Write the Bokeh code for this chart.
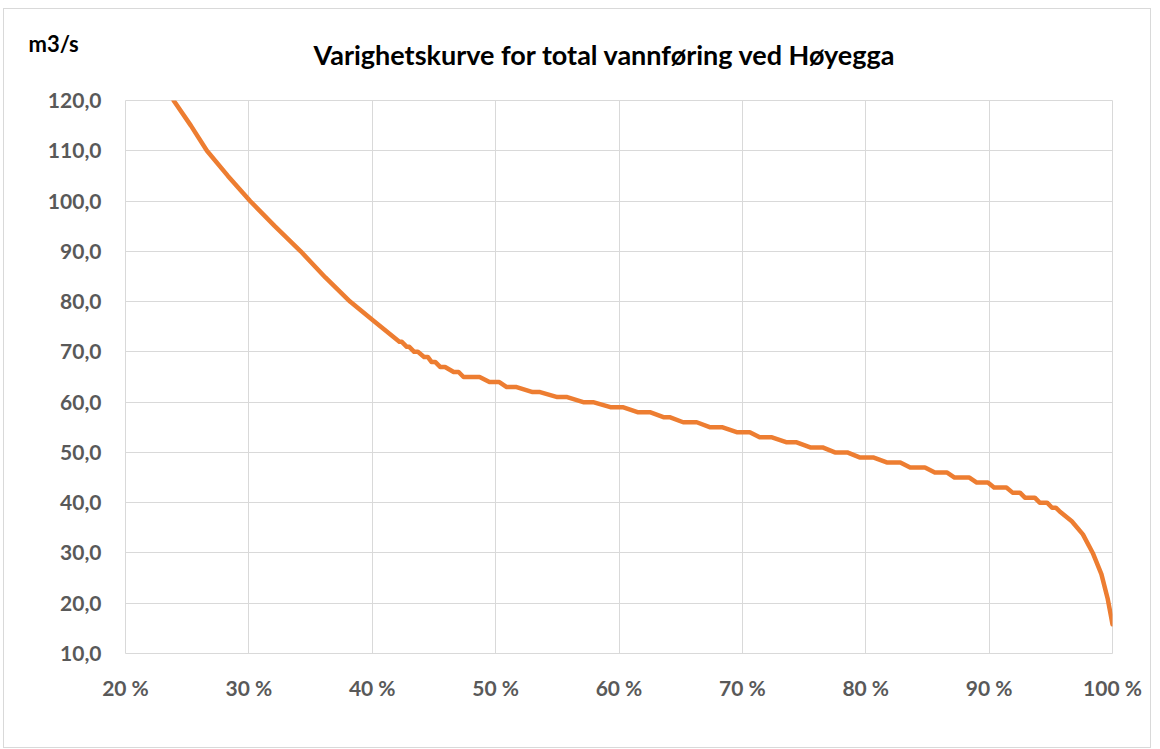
from bokeh.plotting import figure
from bokeh.models import Title, FixedTicker, Range1d
from bokeh.embed import file_html
from bokeh.resources import INLINE

# Exceedance (% of time) and flow (m3/s)
pct = [23.9, 25.3, 26.6, 28.3, 30.1, 32.1, 34.2, 36.2, 38.2, 40.1, 41.7,
       42.2, 42.4, 42.8, 43.0, 43.4, 43.7, 44.2, 44.5, 44.8, 45.1, 45.5, 45.9,
       46.6, 47.0, 47.4, 48.7, 49.5, 50.3, 50.9, 51.7, 53.0, 53.6, 55.0, 55.8,
       57.1, 57.9, 59.3, 60.3, 61.5, 62.5, 63.6, 64.1, 65.2, 66.3, 67.4, 68.4,
       69.6, 70.6, 71.4, 72.4, 73.6, 74.4, 75.5, 76.5, 77.5, 78.5, 79.5, 80.6,
       81.7, 82.8, 83.6, 84.8, 85.6, 86.6, 87.2, 88.4, 89.0, 89.9, 90.4, 91.4,
       91.9, 92.5, 92.9, 93.7, 94.1, 94.7, 95.1, 95.4, 95.7, 96.7, 97.6, 98.4,
       99.1, 99.6, 99.85, 100.0]
flow = [120, 115, 110, 105, 100, 95, 90, 84.8, 80, 76.2, 73,
        72, 72, 71, 71, 70, 70, 69, 69, 68, 68, 67, 67,
        66, 66, 65, 65, 64, 64, 63, 63, 62, 62, 61, 61,
        60, 60, 59, 59, 58, 58, 57, 57, 56, 56, 55, 55,
        54, 54, 53, 53, 52, 52, 51, 51, 50, 50, 49, 49,
        48, 48, 47, 47, 46, 46, 45, 45, 44, 44, 43, 43,
        42, 42, 41, 41, 40, 40, 39, 39, 38.3, 36.3, 33.7, 30,
        25.8, 21, 17.8, 15.8]

x_ticks = [20, 30, 40, 50, 60, 70, 80, 90, 100]
x_tick_labels = ["20 %", "30 %", "40 %", "50 %", "60 %", "70 %", "80 %", "90 %", "100 %"]
y_ticks = [10, 20, 30, 40, 50, 60, 70, 80, 90, 100, 110, 120]
y_tick_labels = ["10,0", "20,0", "30,0", "40,0", "50,0", "60,0", "70,0", "80,0",
                 "90,0", "100,0", "110,0", "120,0"]

title_text = "Varighetskurve for total vannføring ved Høyegga"
unit_text = "m3/s"

FONT = "Lato"
W, H = 1148, 740
p = figure(width=W, height=H, output_backend="svg", toolbar_location=None,
           x_range=Range1d(20, 100), y_range=Range1d(10, 120),
           min_border_left=121, min_border_right=40,
           min_border_top=91, min_border_bottom=96, title=None)
p.styles = {"border": "1px solid #D9D9D9", "margin-left": "3px", "margin-top": "8px"}
p.background_fill_color = "white"
p.border_fill_color = "white"
p.outline_line_color = "#D9D9D9"
p.outline_line_width = 1

t_main = Title(text=title_text, align="left", offset=188, standoff=55,
               vertical_align="top",
               text_font=FONT, text_font_style="bold", text_font_size="27px",
               text_color="#000000")
t_unit = Title(text=unit_text, align="left", offset=-97, standoff=-92,
               text_font=FONT, text_font_style="bold", text_font_size="22px",
               text_color="#000000")
p.add_layout(t_main, "above")
p.add_layout(t_unit, "above")

for ax in (p.xaxis, p.yaxis):
    ax.axis_line_color = None
    ax.major_tick_line_color = None
    ax.minor_tick_line_color = None
    ax.major_label_text_font = FONT
    ax.major_label_text_font_style = "bold"
    ax.major_label_text_font_size = "21px"
    ax.major_label_text_color = "#595959"

p.xaxis.ticker = FixedTicker(ticks=x_ticks)
p.yaxis.ticker = FixedTicker(ticks=y_ticks)
p.xaxis.major_label_overrides = {t: l for t, l in zip(x_ticks, x_tick_labels)}
p.yaxis.major_label_overrides = {t: l for t, l in zip(y_ticks, y_tick_labels)}
p.xaxis.major_label_standoff = 15
p.yaxis.major_label_standoff = 18

p.xgrid.ticker = FixedTicker(ticks=x_ticks)
p.ygrid.ticker = FixedTicker(ticks=y_ticks)
p.grid.grid_line_color = "#D9D9D9"
p.grid.grid_line_width = 1

p.line(pct, flow, line_color="#ED7D31", line_width=4.5, line_join="round",
       line_cap="round")

open("out.html", "w").write(file_html(p, INLINE))
